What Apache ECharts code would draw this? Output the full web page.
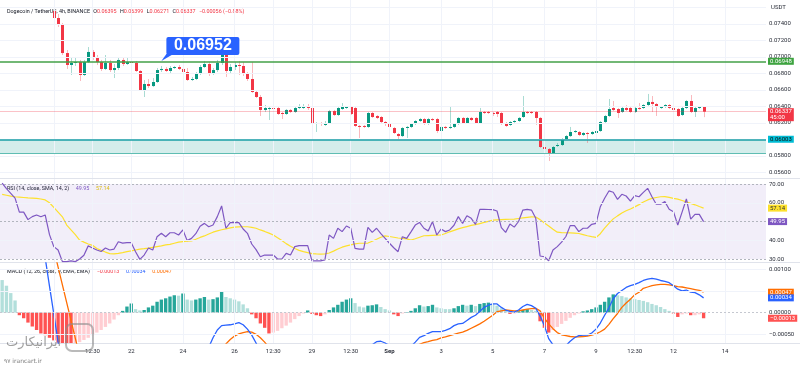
<!DOCTYPE html>
<html><head><meta charset="utf-8">
<script src="https://cdn.jsdelivr.net/npm/echarts@6/dist/echarts.min.js"></script>
<style>html,body{margin:0;padding:0;background:#fff}#c{width:800px;height:369px}</style>
</head><body><div id="c"></div>
<script>
// ---------------- data ----------------
const START_UTC = Date.UTC(2023, 7, 17, 0, 0); // first 4h bar: Aug 17 00:00
const BAR_HOURS = 4;
const N_SLOTS = 178; // visible bar slots incl. empty space at right

const opens = [null,null,null,null,null,null,null,null,null,null,null,null,
 .07558,.07473,.07388,.07048,.06903,.06927,.06939,.06782,.06939,.07061,
 .06988,.06939,.06855,.06927,.06842,.06867,.06964,.06915,.06939,.06927,
 .06830,.06600,.06673,.06648,.06697,.06842,.06855,.06830,.06867,.06879,
 .06855,.06818,.06721,.06733,.06794,.06879,.06915,.06794,.06842,.06927,
 .07085,.06830,.06879,.06903,.06891,.06794,.06733,.06576,.06515,.06358,
 .06370,.06382,.06382,.06321,.06309,.06358,.06333,.06382,.06382,.06394,
 .06382,.06188,.06200,.06176,.06200,.06345,.06297,.06370,.06382,.06394,
 .06382,.06164,.06164,.06152,.06321,.06285,.06273,.06212,.06188,.06139,
 .06067,.06042,.06139,.06152,.06188,.06224,.06248,.06188,.06248,.06248,
 .06103,.06152,.06139,.06152,.06188,.06261,.06200,.06261,.06261,.06200,
 .06333,.06333,.06321,.06333,.06321,.06200,.06176,.06212,.06224,.06273,
 .06333,.06333,.06333,.06261,.05909,.05885,.05836,.05921,.05933,.06006,
 .06042,.06091,.06091,.06055,.06079,.06067,.06079,.06103,.06212,.06285,
 .06382,.06370,.06333,.06382,.06382,.06333,.06382,.06382,.06418,.06455,
 .06430,.06382,.06394,.06418,.06382,.06370,.06297,.06382,.06467,.06333,
 .06382,.06395];
const closes = [null,null,null,null,null,null,null,null,null,null,null,null,
 .07473,.07388,.07048,.06903,.06927,.06939,.06782,.06939,.07061,.06988,
 .06939,.06855,.06927,.06842,.06867,.06964,.06915,.06939,.06927,.06830,
 .06600,.06673,.06648,.06697,.06842,.06855,.06830,.06867,.06879,.06855,
 .06818,.06721,.06733,.06794,.06879,.06915,.06794,.06842,.06927,.07085,
 .06830,.06879,.06903,.06891,.06794,.06733,.06576,.06515,.06358,.06382,
 .06382,.06370,.06309,.06309,.06358,.06333,.06382,.06394,.06394,.06382,
 .06188,.06200,.06188,.06200,.06345,.06297,.06382,.06394,.06394,.06309,
 .06164,.06152,.06152,.06321,.06273,.06261,.06212,.06188,.06152,.06079,
 .06042,.06139,.06152,.06188,.06224,.06248,.06188,.06248,.06236,.06103,
 .06152,.06139,.06152,.06188,.06261,.06200,.06261,.06236,.06200,.06333,
 .06321,.06321,.06309,.06309,.06200,.06164,.06212,.06224,.06261,.06333,
 .06321,.06321,.06261,.05909,.05885,.05836,.05909,.05933,.06006,.06042,
 .06091,.06103,.06055,.06079,.06067,.06091,.06103,.06212,.06285,.06370,
 .06358,.06321,.06382,.06358,.06333,.06382,.06370,.06418,.06455,.06430,
 .06394,.06394,.06418,.06382,.06358,.06285,.06382,.06467,.06333,.06382,
 .06394,.06337];
const lows = [null,null,null,null,null,null,null,null,null,null,null,null,
 .07461,.07364,.07024,.06855,.06782,.06891,.06709,.06770,.06927,.06964,
 .06903,.06830,.06842,.06818,.06745,.06842,.06891,.06903,.06915,.06818,
 .06588,.06515,.06624,.06636,.06685,.06818,.06818,.06794,.06855,.06842,
 .06806,.06709,.06709,.06721,.06782,.06867,.06770,.06782,.06818,.06903,
 .06758,.06806,.06842,.06782,.06770,.06709,.06564,.06503,.06285,.06333,
 .06236,.06358,.06297,.06248,.06297,.06321,.06321,.06370,.06370,.06358,
 .06164,.06091,.06164,.06164,.06188,.06285,.06285,.06358,.06370,.06297,
 .06152,.06018,.06139,.06139,.06261,.06248,.06200,.06164,.06091,.06067,
 .06006,.06030,.06018,.06139,.06176,.06212,.06176,.06176,.06224,.06079,
 .06091,.06127,.06127,.06139,.06176,.06188,.06188,.06224,.06188,.06188,
 .06309,.06309,.06285,.06273,.06176,.06152,.06164,.06200,.06212,.06261,
 .06309,.06309,.06176,.05897,.05812,.05739,.05824,.05909,.05921,.05994,
 .06030,.06079,.06042,.06042,.05958,.06055,.06067,.06091,.06200,.06273,
 .06345,.06261,.06321,.06345,.06321,.06321,.06358,.06370,.06406,.06333,
 .06285,.06370,.06382,.06370,.06345,.06273,.06285,.06370,.06321,.06273,
 .06370,.06271];
const highs = [null,null,null,null,null,null,null,null,null,null,null,null,
 .07630,.07521,.07412,.07085,.06988,.07000,.06964,.06964,.07121,.07085,
 .07024,.06964,.07024,.06964,.06915,.07000,.06988,.06988,.07085,.06952,
 .06842,.06721,.06733,.06745,.06867,.06891,.06879,.06891,.06891,.06903,
 .06903,.06867,.06758,.06818,.06903,.06952,.06939,.06867,.06964,.07109,
 .07109,.06915,.06939,.06952,.06939,.06818,.06939,.06600,.06539,.06418,
 .06406,.06394,.06394,.06333,.06370,.06370,.06394,.06430,.06430,.06430,
 .06394,.06212,.06212,.06224,.06358,.06358,.06406,.06442,.06406,.06406,
 .06394,.06176,.06176,.06333,.06333,.06297,.06285,.06224,.06200,.06152,
 .06079,.06152,.06164,.06200,.06236,.06261,.06261,.06261,.06261,.06261,
 .06164,.06164,.06394,.06200,.06273,.06273,.06273,.06273,.06273,.06382,
 .06345,.06345,.06333,.06345,.06333,.06212,.06224,.06236,.06273,.06527,
 .06345,.06345,.06345,.06273,.05933,.05897,.05921,.05958,.06018,.06055,
 .06152,.06115,.06103,.06091,.06091,.06103,.06115,.06224,.06297,.06491,
 .06467,.06382,.06406,.06418,.06406,.06406,.06442,.06430,.06552,.06527,
 .06442,.06406,.06430,.06430,.06394,.06382,.06394,.06479,.06539,.06394,
 .06406,.06399];

const rsi = [70.5,67.5,65,62.5,55,55,51,52.6,53.5,52.5,
 53.5,43,36.6,34.8,28.6,28.6,29,28.6,30,32,
 37,35.9,34.8,34,35.9,34.8,35.3,39.2,38.5,38.7,
 38.7,33.9,29.8,32.1,35.9,34.8,41.9,43.7,41.9,44,
 44,42.8,45.5,39.8,41,43.5,47.5,49,47.2,48.1,
 52.6,58.3,46.4,49.4,49.4,49.4,46,43.7,38,35,
 31.2,32.1,32.1,32.1,30,30,33,32.1,36.6,37.1,
 37.1,37.1,29,29,29,29.5,42.8,41,46.4,44.6,
 47.6,46.4,35.7,35.3,35.3,46.9,44.2,46.4,43.5,41,
 38.4,36,33.9,41.9,41,44.5,48.1,49.5,46.4,45,
 49.9,42.8,46,44.6,45.5,48,52.6,49,53.1,51.7,
 48.5,56.5,56.5,56.4,56.3,55.6,46.7,44.2,48.7,47,
 50,56.1,56.5,56.1,51.7,31.6,31.2,29.1,34.8,36.6,
 39,42,47.8,47.8,44.6,46.4,46.4,48.5,49,57.9,
 62.4,66.3,65.6,61.8,64.5,63.6,60.9,63.8,63.2,65.5,
 67.7,63.2,59.2,59.2,60.6,56.5,55.2,48.1,55,62,
 51.3,53.8,53.8,49.95];
const rsiSma = [64.5,64,63.5,63.2,63,62.8,62.6,62.5,62.3,62,
 61.5,60,57.5,55,52.5,48.1,45.5,43,40.1,39,
 38,37.3,35.6,34.6,33.7,32.9,32.7,33,33.4,33.9,
 34.3,34.8,35.3,35.5,35.8,36.2,36.6,37,37.5,37.8,
 38.4,39,39.3,39.5,39.7,40.5,41.5,42.3,43.3,44.3,
 45,45.6,46.1,46.6,47,47.1,47.2,47.2,46.9,46.4,
 45.5,44.7,43.8,42.8,41.3,39.9,38.2,36.8,35.6,34.6,
 33.9,33.4,32.9,32.7,32.6,32.7,33.2,34.2,35.3,36.3,
 37,37.5,38.1,38.4,38.4,38.5,39.5,40.5,41.6,42.3,
 42,41.6,41.2,41,40.7,40.1,40.8,41.6,42.4,42.5,
 42.6,42.7,42.8,43.6,44.5,45.3,46.1,46.7,47.3,47.9,
 48.3,48.9,49.5,50.1,50.7,50.9,51,51.1,51.2,51.3,
 51.6,51.9,52.2,52.5,52.4,51,49.2,47.6,45.9,44.3,
 44.1,44,43.9,43.8,43.6,43,42.4,41.9,41.5,43.5,
 46.5,49,51.4,53,54.5,55.7,56.7,57.8,59,60.4,
 61.5,62.3,62.8,63.2,63.3,62.9,62.3,61.9,61.2,60.5,
 59.7,58.9,58,57.14];

const macdHist = [0.00075,0.00062,0.00045,0.00028,-0.00006,-0.00013,-0.00023,-0.00032,-0.00040,-0.00048,
 -0.00052,-0.00058,-0.00064,-0.00069,-0.00072,-0.00075,-0.00076,-0.00071,-0.00068,-0.00063,
 -0.00058,-0.00052,-0.00046,-0.00040,-0.00033,-0.00025,-0.00016,-0.00006,0.00004,0.00014,
 0.00021,0.00008,0.00005,0.00006,0.00012,0.00016,0.00025,0.00030,0.00033,0.00037,
 0.00040,0.00039,0.00044,0.00030,0.00028,0.00030,0.00033,0.00036,0.00030,0.00031,
 0.00035,0.00048,0.00036,0.00033,0.00030,0.00026,0.00019,0.00010,-0.00004,-0.00013,
 -0.00025,-0.00035,-0.00048,-0.00046,-0.00042,-0.00036,-0.00030,-0.00023,-0.00015,-0.00008,
 -0.00002,0.00005,-0.00003,-0.00006,-0.00008,-0.00004,0.00006,0.00012,0.00018,0.00025,
 0.00030,0.00033,0.00022,0.00014,0.00012,0.00016,0.00017,0.00019,0.00013,0.00008,
 0.00005,-0.00004,-0.00008,-0.00002,0.00001,0.00004,0.00010,0.00017,0.00014,0.00015,
 0.00018,0.00012,0.00010,0.00008,0.00008,0.00010,0.00015,0.00018,0.00016,0.00018,
 0.00015,0.00020,0.00022,0.00023,0.00020,0.00016,0.00010,0.00004,-0.00003,-0.00002,
 0.00003,0.00006,0.00008,0.00006,0.00004,-0.00020,-0.00035,-0.00046,-0.00040,-0.00033,
 -0.00026,-0.00019,-0.00012,-0.00006,-0.00002,0.00003,0.00005,0.00008,0.00012,0.00018,
 0.00025,0.00035,0.00042,0.00040,0.00038,0.00035,0.00033,0.00031,0.00029,0.00027,
 0.00024,0.00020,0.00017,0.00013,0.00008,0.00004,-0.00002,-0.00010,-0.00004,-0.00002,
 -0.00006,-0.00006,-0.00004,-0.00013];
const macdLine = [0.0045,0.0042,0.0038,0.0035,0.0031,0.0028,0.0025,0.0023,0.0021,0.0019,
 0.00126,0.00061,-0.00003,-0.00068,-0.0013,-0.0017,-0.0020,-0.0022,-0.0023,-0.0023,
 -0.0022,-0.0021,-0.0020,-0.0020,-0.0019,-0.0019,-0.0018,-0.0017,-0.0016,-0.0016,
 -0.0015,-0.0015,-0.0016,-0.0016,-0.0015,-0.0015,-0.0014,-0.0014,-0.0013,-0.0013,
 -0.0012,-0.0012,-0.0011,-0.0012,-0.0012,-0.0011,-0.0010,-0.00095,-0.00080,-0.00058,
 -0.00040,-0.00030,-0.00029,-0.00028,-0.00026,-0.00023,-0.00028,-0.00038,-0.00052,-0.00070,
 -0.0009,-0.0011,-0.0012,-0.0013,-0.0014,-0.0015,-0.0015,-0.0014,-0.0013,-0.0012,
 -0.0011,-0.0011,-0.0012,-0.0013,-0.0013,-0.0012,-0.0011,-0.0010,-0.0009,-0.00085,
 -0.0008,-0.0008,-0.0009,-0.0009,-0.00085,-0.0008,-0.00074,-0.00067,-0.00066,-0.00070,
 -0.00076,-0.00085,-0.0009,-0.00088,-0.00082,-0.00078,-0.00068,-0.00057,-0.00053,-0.00048,
 -0.00044,-0.00044,-0.00044,-0.00041,-0.00037,-0.00030,-0.00026,-0.00025,-0.00018,-0.00011,
 -0.00006,0.00003,0.00012,0.00017,0.00020,0.00020,0.00012,0.00006,0.00003,0.00001,
 0.00006,0.00014,0.00019,0.00016,0.00010,-0.00008,-0.00030,-0.00060,-0.00074,-0.0009,
 -0.00088,-0.00076,-0.00066,-0.00058,-0.00053,-0.00052,-0.00052,-0.00047,-0.00038,-0.00024,
 -0.00006,0.00011,0.00032,0.00044,0.00051,0.00058,0.00062,0.00065,0.00069,0.00074,
 0.00077,0.00079,0.00077,0.00074,0.00072,0.00069,0.00062,0.00054,0.00050,0.00052,
 0.00047,0.00046,0.00041,0.00034];
const macdSignal = [0.0042,0.0041,0.0040,0.0038,0.0036,0.0034,0.0032,0.0030,0.0028,0.0026,
 0.0024,0.0020,0.00146,0.00105,0.00064,0.00023,-0.00018,-0.00059,-0.0010,-0.0013,
 -0.0015,-0.0016,-0.0017,-0.0017,-0.0017,-0.0017,-0.0017,-0.0017,-0.0017,-0.0017,
 -0.0017,-0.0016,-0.0016,-0.0016,-0.0016,-0.0016,-0.0016,-0.0015,-0.0015,-0.0015,
 -0.0015,-0.0014,-0.0014,-0.0014,-0.0014,-0.0013,-0.0013,-0.0012,-0.0012,-0.0011,
 -0.0010,-0.00090,-0.00072,-0.00062,-0.00054,-0.00049,-0.00046,-0.00044,-0.00045,-0.00050,
 -0.00058,-0.00068,-0.00080,-0.0009,-0.0010,-0.0011,-0.0012,-0.0012,-0.0013,-0.0013,
 -0.0013,-0.0012,-0.0012,-0.0012,-0.0012,-0.0012,-0.0012,-0.0011,-0.0011,-0.0010,
 -0.0010,-0.00095,-0.00095,-0.0009,-0.0009,-0.0009,-0.0009,-0.0009,-0.0009,-0.0009,
 -0.0009,-0.0009,-0.0009,-0.0009,-0.0009,-0.00088,-0.00082,-0.00073,-0.00069,-0.00067,
 -0.00064,-0.00062,-0.00058,-0.00056,-0.00053,-0.00050,-0.00047,-0.00045,-0.00041,-0.00036,
 -0.00031,-0.00026,-0.00020,-0.00013,-0.00006,0.00002,0.00004,0.00006,0.00005,0.00004,
 0.00004,0.00006,0.00008,0.00009,0.00010,0.00004,-0.00013,-0.00026,-0.00037,-0.00046,
 -0.00051,-0.00053,-0.00055,-0.00056,-0.00056,-0.00055,-0.00054,-0.00052,-0.00049,-0.00044,
 -0.00038,-0.00027,-0.00014,-0.00002,0.00012,0.00022,0.00031,0.00041,0.00047,0.00056,
 0.00059,0.00062,0.00064,0.00065,0.00065,0.00064,0.00062,0.00060,0.00059,0.00057,
 0.00055,0.00053,0.00051,0.00047];

// time-axis ticks (first label is hidden under the watermark in the source image)
const tickDates  = ['08-19 00:00','08-20 12:00','08-22 00:00','08-24 00:00','08-26 00:00','08-27 12:00','08-29 00:00','08-30 12:00','09-01 00:00','09-03 00:00','09-05 00:00','09-07 00:00','09-09 00:00','09-10 12:00','09-12 00:00','09-14 00:00'];
const tickLabels = ['','12:30','22','24','26','12:30','29','12:30','Sep','3','5','7','9','12:30','12','14'];
// price-axis ticks
const priceTicks = [0.076,0.074,0.072,0.070,0.068,0.066,0.064,0.062,0.060,0.058,0.056];
const rsiTicks = [70,60,50,40,30];
const macdTicks = [0.001,0.0005,0,-0.0005];

// drawn levels / annotations
const resistance = 0.06948;
const calloutPrice = 0.06952;
const calloutAt = '08-23 04:00';
const supportTop = 0.06003, supportBottom = 0.05836;
const lastPrice = 0.06337, countdown = '45:00';
const lastRsi = 49.95, lastRsiSma = 57.14;
const lastHist = -0.00013, lastMacd = 0.00034, lastSignal = 0.00047;

// ---------------- build ----------------
const pad = n => String(n).padStart(2,'0');
const CATS = [];
for (let i = 0; i < N_SLOTS; i++) {
  const d = new Date(START_UTC + i * BAR_HOURS * 3600e3);
  CATS.push(pad(d.getUTCMonth()+1) + '-' + pad(d.getUTCDate()) + ' ' + pad(d.getUTCHours()) + ':00');
}
const labelOf = {};
tickDates.forEach((d,k)=> labelOf[d] = tickLabels[k]);

const FONT = 'Roboto, sans-serif';
const UP = '#089981', DOWN = '#f23645';
const GRIDLINE = '#f0f3fa';
const AXTXT = '#2a2e39';
const NOLINE = {color:'rgba(0,0,0,0)', width:0};

const candleData = [];
for (let i = 0; i < opens.length; i++) {
  if (opens[i] == null) continue;
  candleData.push([i, opens[i], closes[i], lows[i], highs[i]]);
}
const histData = macdHist.map((v,i)=>{
  const p = i>0 ? macdHist[i-1] : v;
  let c;
  if (v >= 0) c = v > p ? '#26a69a' : '#b2dfdb';
  else c = v < p ? '#ff5252' : '#ffcdd2';
  return {value: v, itemStyle: {color: c}};
});

const fmt5 = v => (v < 0 ? '\u2212' : '') + Math.abs(v).toFixed(5);

function vLines() { return tickDates.map(d => ({xAxis: d, lineStyle:{color:GRIDLINE,width:1,type:'solid'}, label:{show:false}})); }
function hLine(v, text, lineStyle) {
  return {yAxis: v, lineStyle: lineStyle,
    label: {show: text!=null, position:'end', distance:3, formatter: text==null?'':text,
      color: AXTXT, fontSize: 6, fontFamily: FONT}};
}
function boxLine(v, text, bg, fg, lineStyle, offset) {
  return {yAxis: v, lineStyle: lineStyle || NOLINE,
    label:{show:text!=null, position:'end', distance:2, formatter:text==null?'':text, color: fg||'#fff', backgroundColor:bg,
      padding:[1,2,0,2], fontSize:6, lineHeight:6, fontFamily:FONT, opacity:1, offset: offset || [0,0]}};
}
const ML = (data) => ({symbol:['none','none'], silent:true, animation:false, precision:8, data: data});

const grids = [
  {left:0, right:34, top:0, height:178},
  {left:0, right:34, top:179, height:83},
  {left:0, right:34, top:263, height:80}
];
const xAxes = grids.map((g,k)=>({
  gridIndex:k, type:'category', data:CATS, boundaryGap:true,
  axisLine:{show:false}, axisTick:{show:false}, splitLine:{show:false},
  axisLabel: k<2 ? {show:false} : {
    show:true, interval:(idx,val)=> !!labelOf[val], margin:5,
    fontSize:6, color:AXTXT, fontFamily:FONT,
    formatter:(val)=> labelOf[val]==='Sep' ? '{b|Sep}' : labelOf[val],
    rich:{b:{fontWeight:'bold', fontSize:6, color:AXTXT, fontFamily:FONT}}
  }
}));
const yAxes = [
  {gridIndex:0, type:'value', min:0.055333, max:0.076909, show:false},
  {gridIndex:1, type:'value', min:28.4, max:72.667, show:false},
  {gridIndex:2, type:'value', min:-0.0007, max:0.0011429, show:false}
];

const gridStyle = {color:GRIDLINE, width:1, type:'solid'};

const series = [
  // --- main pane guides
  {type:'line', xAxisIndex:0, yAxisIndex:0, data:[], z:1, silent:true,
    markLine: ML([...vLines(), ...priceTicks.map(v => hLine(v, (v===0.076||v===0.060)?null:v.toFixed(5), gridStyle))]),
    markArea:{silent:true, itemStyle:{color:'rgba(38,166,154,0.2)'}, data:[[{yAxis:supportTop},{yAxis:supportBottom}]]}
  },
  // --- candles
  {type:'custom', xAxisIndex:0, yAxisIndex:0, data:candleData, z:3, clip:true,
    encode:{x:0, y:[1,2,3,4]},
    renderItem:(params, api)=>{
      const i = api.value(0), o = api.value(1), c = api.value(2), l = api.value(3), h = api.value(4);
      const pO = api.coord([i,o]), pC = api.coord([i,c]), pL = api.coord([i,l]), pH = api.coord([i,h]);
      const w = api.size([1,0])[0] * 0.7;
      const up = c >= o;
      const x = Math.round(pO[0]) + 0.5;
      const top = Math.min(pO[1], pC[1]);
      return {type:'group', children:[
        {type:'line', shape:{x1:x, y1:pH[1], x2:x, y2:pL[1]},
          style:{stroke: up ? 'rgba(8,153,129,0.35)' : 'rgba(242,54,69,0.35)', lineWidth:1}},
        {type:'rect', shape:{x:x - w/2, y:top, width:w, height:Math.max(1, Math.abs(pO[1]-pC[1]))},
          style:{fill: up ? UP : DOWN}}
      ]};
    }
  },
  // --- levels with price boxes
  {type:'line', xAxisIndex:0, yAxisIndex:0, data:[], z:5, silent:true,
    markLine: ML([
      boxLine(supportBottom, null, null, null, {color:'#5fbdb3', width:1, type:'solid'}),
      boxLine(lastPrice, lastPrice.toFixed(5) + '\n' + countdown, '#f23645', '#fff', {color:'rgba(242,54,69,0.3)', width:1, type:'solid'}, [0,3]),
      boxLine(resistance, resistance.toFixed(5), '#3da33f', '#fff', {color:'#43a047', width:1.5, type:'solid'}),
      boxLine(supportTop, supportTop.toFixed(5), '#00bcd4', '#111', {color:'#1a9fa6', width:1.5, type:'solid'})
    ])
  },
  // --- RSI pane
  {type:'line', xAxisIndex:1, yAxisIndex:1, data:[], z:1, silent:true,
    markArea:{silent:true, itemStyle:{color:'rgba(126,87,194,0.1)'}, data:[[{yAxis:70},{yAxis:30}]]},
    markLine: ML([...vLines(),
      ...rsiTicks.map(v => hLine(v, v===50?null:v.toFixed(2),
        (v===70||v===50||v===30) ? {color:'#b2b5be', width:1, type:[2,2]} : gridStyle))])
  },
  {type:'line', xAxisIndex:1, yAxisIndex:1, data:rsiSma, symbol:'none', z:3, clip:true,
    lineStyle:{color:'#fde12d', width:1.2}, silent:true},
  {type:'line', xAxisIndex:1, yAxisIndex:1, data:rsi, symbol:'none', z:4, clip:true,
    lineStyle:{color:'#7e57c2', width:1.2}, silent:true},
  {type:'line', xAxisIndex:1, yAxisIndex:1, data:[], z:6, silent:true,
    markLine: ML([boxLine(lastRsiSma, lastRsiSma.toFixed(2), '#fde12d', '#333'),
                  boxLine(lastRsi, lastRsi.toFixed(2), '#7e57c2', '#fff')])},
  // --- MACD pane
  {type:'line', xAxisIndex:2, yAxisIndex:2, data:[], z:1, silent:true,
    markLine: ML([...vLines(),
      ...macdTicks.map(v => hLine(v, v===0.0005?null:fmt5(v),
        v===0 ? {color:'#c5c8d0', width:1, type:[2,2]} : gridStyle))])
  },
  {type:'bar', xAxisIndex:2, yAxisIndex:2, data:histData, barWidth:'78%', z:2, silent:true, animation:false},
  {type:'line', xAxisIndex:2, yAxisIndex:2, data:macdSignal, symbol:'none', z:3, clip:true,
    lineStyle:{color:'#ff6d00', width:1.3}, silent:true},
  {type:'line', xAxisIndex:2, yAxisIndex:2, data:macdLine, symbol:'none', z:4, clip:true,
    lineStyle:{color:'#2962ff', width:1.3}, silent:true},
  {type:'line', xAxisIndex:2, yAxisIndex:2, data:[], z:6, silent:true,
    markLine: ML([boxLine(lastSignal, fmt5(lastSignal), '#ff6d00', '#fff'),
                  boxLine(lastMacd, fmt5(lastMacd), '#2962ff', '#fff'),
                  boxLine(lastHist, fmt5(lastHist), '#ff5252', '#fff')])}
];

const chart = echarts.init(document.getElementById('c'), null, {renderer:'canvas'});
chart.setOption({
  animation:false, backgroundColor:'#ffffff',
  textStyle:{fontFamily:FONT},
  grid:grids, xAxis:xAxes, yAxis:yAxes, series:series
});

const [tx, ty] = chart.convertToPixel({xAxisIndex:0, yAxisIndex:0}, [CATS.indexOf(calloutAt), calloutPrice]);
const sep = '#e0e3eb';
const rich6 = (c, w) => ({fontSize:5.4, fill:c, fontFamily:FONT, fontWeight:w||'normal'});
chart.setOption({graphic:[
  // pane separators
  {type:'line', shape:{x1:0,y1:178.5,x2:800,y2:178.5}, style:{stroke:sep, lineWidth:1}, silent:true},
  {type:'line', shape:{x1:0,y1:262.5,x2:800,y2:262.5}, style:{stroke:sep, lineWidth:1}, silent:true},
  {type:'line', shape:{x1:0,y1:343.5,x2:800,y2:343.5}, style:{stroke:sep, lineWidth:1}, silent:true},
  // header texts
  {type:'text', left:7, top:6, silent:true, style:{
    text:'{t|Dogecoin / TetherUS, 4h, BINANCE} {k|O}{v|0.06395} {k|H}{v|0.06399} {k|L}{v|0.06271} {k|C}{v|0.06337} {v|\u22120.00056 (\u22120.88%)}',
    rich:{t:rich6('#131722'), k:rich6('#131722'), v:rich6('#f23645')}}},
  {type:'text', left:771, top:4, silent:true, style:{text:'USDT', fontSize:6, fill:AXTXT, fontFamily:FONT}},
  {type:'text', left:7, top:183, silent:true, style:{
    text:'{t|RSI (14, close, SMA, 14, 2)}  {p|49.95}  {y|57.14}',
    rich:{t:rich6('#131722'), p:rich6('#7e57c2'), y:rich6('#e6c800')}}},
  {type:'text', left:7, top:266, silent:true, style:{
    text:'{t|MACD (12, 26, close, 9, EMA, EMA)}  {r|\u22120.00013}  {b|0.00034}  {o|0.00047}',
    rich:{t:rich6('#131722'), r:rich6('#f23645'), b:rich6('#2962ff'), o:rich6('#ff6d00')}}},
  // callout
  {type:'polygon', silent:true, shape:{points:[[tx,ty],[tx+5,ty-7],[tx+12,ty-7]]}, style:{fill:'#2962ff'}, z:20},
  {type:'rect', silent:true, shape:{x:tx+5, y:ty-24, width:73, height:18, r:2}, style:{fill:'#2962ff'}, z:20},
  {type:'text', silent:true, x:tx+41.5, y:ty-15, z:21, style:{text:calloutPrice.toFixed(5), fill:'#fff',
    fontSize:16, fontWeight:'bold', fontFamily:'Liberation Sans, Arial, sans-serif', align:'center', verticalAlign:'middle'}},
  // watermark
  {type:'rect', silent:true, shape:{x:66, y:324, width:27, height:27, r:6}, style:{fill:'none', stroke:'rgba(140,140,140,0.6)', lineWidth:2}, z:30},
  {type:'text', silent:true, left:6, top:336, z:30, style:{text:'ایرانیکارت', fontSize:13, fill:'rgba(120,120,120,0.7)', fontFamily:'DejaVu Sans'}},
  {type:'text', silent:true, left:4, top:358, z:30, style:{text:'۹۷ irancart.ir', fontSize:6, fill:'rgba(90,90,90,0.8)', fontFamily:'DejaVu Sans'}}
]});
</script></body></html>
